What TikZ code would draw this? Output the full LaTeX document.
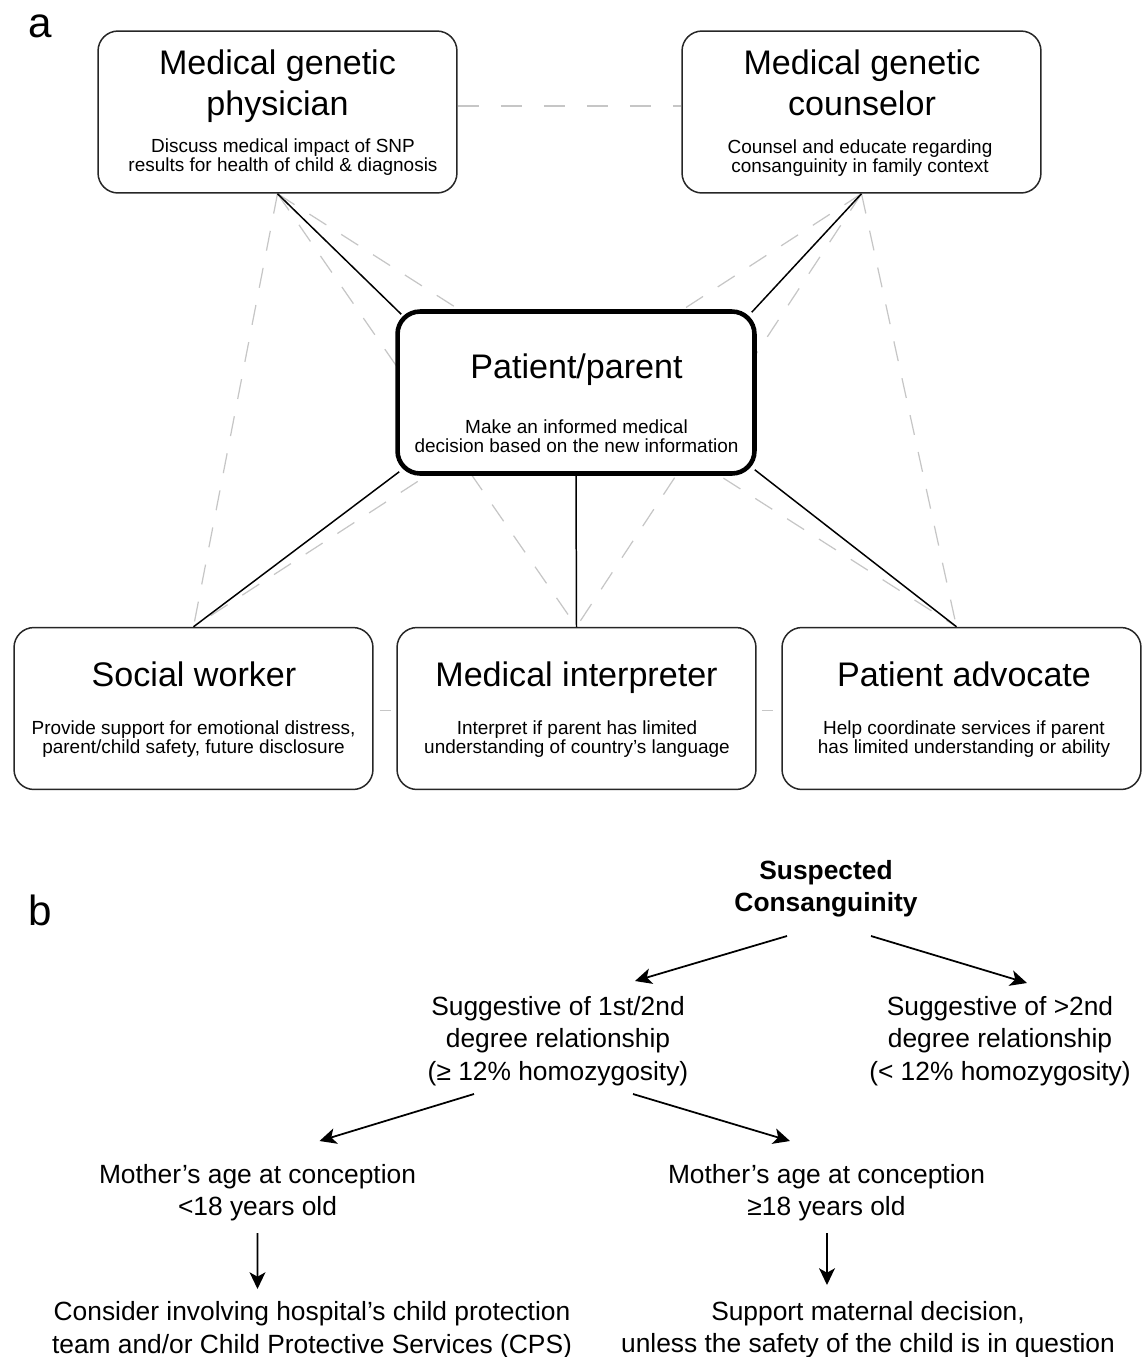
\documentclass[tikz,border=0pt]{standalone}
\usepackage{fontspec}
\setmainfont{Liberation Sans}
\usetikzlibrary{calc,backgrounds,arrows.meta}
\begin{document}
\begin{tikzpicture}[x=0.02cm,y=-0.02cm,
 box/.style={draw=black!85, line width=0.85pt, rounded corners=0.4cm, fill=white, minimum width=7.18cm, minimum height=3.24cm, inner sep=0pt},
 mainbox/.style={box, draw=black, line width=2.6pt, rounded corners=0.45cm, minimum width=7.14cm, minimum height=3.24cm},
 ttl/.style={align=center, font=\fontsize{19.4}{23.2}\selectfont, inner sep=0pt},
 subt/.style={align=center, font=\fontsize{10.8}{10.9}\selectfont, inner sep=0pt},
 link/.style={line width=0.85pt, black},
 soft/.style={line width=0.7pt, gray!45, dash pattern=on 11.5pt off 10pt},
 btxt/.style={align=center, font=\fontsize{15}{18.4}\selectfont, inner sep=0pt},
 arr/.style={line width=1pt, -{Stealth[length=9.5pt,width=9pt,inset=2.5pt]}},
 lbl/.style={font=\fontsize{24}{24}\selectfont, inner sep=0pt, anchor=base west}
]
\useasboundingbox (0,0) rectangle (1142,1357);

% ---------- panel a ----------
\node[lbl] (la) at (28,37) {a};

\node[box] (phys) at (277.5,112) {};
\node[box] (couns) at (861.5,112) {};
\node[mainbox] (pat) at (576,392.5) {};
\node[box] (sw) at (193.5,708.5) {};
\node[box] (mi) at (576.5,708.5) {};
\node[box] (pa) at (961.5,708.5) {};

\node[ttl] (physT) at (277.5,86) {Medical genetic\\physician};
\node[subt] (physS) at (283,157) {Discuss medical impact of SNP\\results for health of child \& diagnosis};
\node[ttl] (counsT) at (862,83) {Medical genetic\\counselor};
\node[subt] (counsS) at (860,158.5) {Counsel and educate regarding\\consanguinity in family context};
\node[ttl] (patT) at (576.5,369.5) {Patient/parent};
\node[subt] (patS) at (576.5,436) {Make an informed medical\\decision based on the new information};
\node[ttl] (swT) at (194,674.5) {Social worker};
\node[subt] (swS) at (193.5,739) {Provide support for emotional distress,\\parent/child safety, future disclosure};
\node[ttl] (miT) at (576.5,677.5) {Medical interpreter};
\node[subt] (miS) at (577,739) {Interpret if parent has limited\\understanding of country’s language};
\node[ttl] (paT) at (964,674.5) {Patient advocate};
\node[subt] (paS) at (964,739) {Help coordinate services if parent\\has limited understanding or ability};

\begin{pgfonlayer}{background}
 \coordinate (paTop) at ($(pa.north)+(-5,0)$);
 \draw[soft] (phys.south) -- (sw.north);
 \draw[soft] (phys.south) -- (mi.north);
 \draw[soft] (phys.south) -- (paTop);
 \draw[soft] (couns.south) -- (sw.north);
 \draw[soft] (couns.south) -- (mi.north);
 \draw[soft] (couns.south) -- (paTop);
 \draw[soft, dash pattern=on 12pt off 12.5pt] ($(phys.east)+(0,-6)$) -- ($(couns.west)+(0,-6)$);
 \draw[soft, dash pattern=on 0pt off 3.4pt on 6.2pt off 20pt] ($(sw.east)+(0,2)$) -- ($(mi.west)+(0,2)$);
 \draw[soft, dash pattern=on 0pt off 2.8pt on 6.2pt off 20pt] ($(mi.east)+(0,2)$) -- ($(pa.west)+(0,2)$);
 \draw[link] (phys.south) -- ($(pat.north west)+(6,5)$);
 \draw[link] (couns.south) -- ($(pat.north east)+(-5,3)$);
 \draw[link] ($(pat.south west)+(4,-4)$) -- (sw.north);
 \draw[link] (pat.south) -- (mi.north);
 \draw[link] ($(pat.south east)+(-2,-6)$) -- (paTop);
\end{pgfonlayer}

% ---------- panel b ----------
\node[lbl] (lb) at (28,925) {b};

\node[btxt, font={\fontsize{15}{18.4}\selectfont\bfseries}] (sc) at (826,889) {Suspected\\Consanguinity};
\node[btxt] (s1) at (558,1041) {Suggestive of 1st/2nd\\degree relationship\\(≥ 12\% homozygosity)};
\node[btxt] (s2) at (1000,1041) {Suggestive of >2nd\\degree relationship\\(< 12\% homozygosity)};
\node[btxt] (m1) at (257.5,1193) {Mother’s age at conception\\<18 years old};
\node[btxt] (m2) at (826.5,1193) {Mother’s age at conception\\≥18 years old};
\node[btxt] (c1) at (312,1330) {Consider involving hospital’s child protection\\team and/or Child Protective Services (CPS)};
\node[btxt] (c2) at (868,1330) {Support maternal decision,\\unless the safety of the child is in question};

\draw[arr] ($(sc)+(-39,47)$) -- ($(s1)+(77,-60)$);
\draw[arr] ($(sc)+(45,47)$) -- ($(s2)+(27,-58)$);
\draw[arr] ($(s1)+(-84,53)$) -- ($(m1)+(62,-52)$);
\draw[arr] ($(s1)+(75,53)$) -- ($(m2)+(-36.5,-52)$);
\draw[arr] ($(m1)+(0,40)$) -- ($(c1)+(-54.5,-41)$);
\draw[arr] ($(m2)+(0.5,40)$) -- ($(c2)+(-41,-45)$);
\end{tikzpicture}
\end{document}
